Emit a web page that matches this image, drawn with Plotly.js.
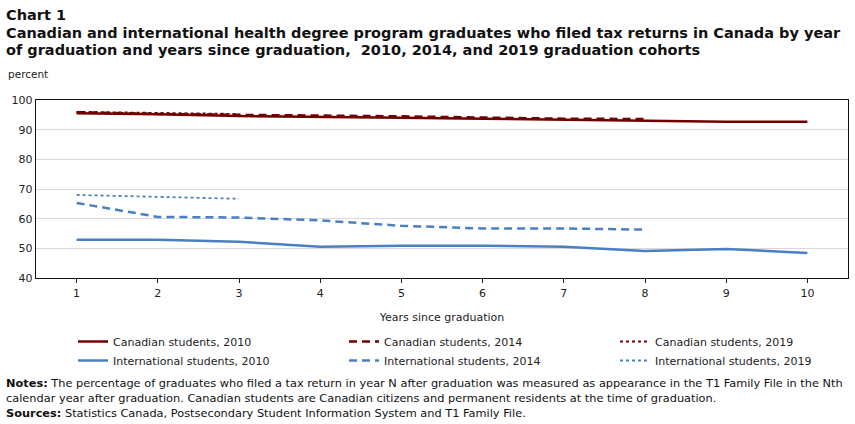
<!DOCTYPE html>
<html><head><meta charset="utf-8">
<script src="https://cdn.plot.ly/plotly-3.0.1.min.js"></script>
<style>html,body{margin:0;padding:0;background:#fff}#c{width:855px;height:424px}</style>
</head><body><div id="c"></div>
<script>
const years = [1,2,3,4,5,6,7,8,9,10];
const can2010 = [95.5,95.2,94.6,94.4,94.0,93.7,93.3,93.0,92.7,92.7];
const can2014 = [95.9,95.3,95.0,94.8,94.5,94.1,93.7,93.6];
const can2019 = [96.0,95.6,95.3];
const int2010 = [52.9,52.9,52.2,50.5,50.9,50.9,50.5,49.1,49.8,48.4];
const int2014 = [65.3,60.6,60.4,59.4,57.6,56.7,56.7,56.3];
const int2019 = [68.0,67.3,66.7];
const names = ["Canadian students, 2010","Canadian students, 2014","Canadian students, 2019",
               "International students, 2010","International students, 2014","International students, 2019"];
const titleLines = ["<b>Chart 1</b>",
  "<b>Canadian and international health degree program graduates who filed tax returns in Canada by year</b>",
  "<b>of graduation and years since graduation,  2010, 2014, and 2019 graduation cohorts</b>"];
const noteLines = ["<b>Notes:</b> The percentage of graduates who filed a tax return in year N after graduation was measured as appearance in the T1 Family File in the Nth",
  "calendar year after graduation. Canadian students are Canadian citizens and permanent residents at the time of graduation.",
  "<b>Sources:</b> Statistics Canada, Postsecondary Student Information System and T1 Family File."];
const RED = '#700000', BLUE = '#4a7fc1';
const FONT = 'DejaVu Sans, Verdana, sans-serif';
function tr(y, name, color, dash, w){
  return {x: years.slice(0, y.length), y: y, name: name, type: 'scatter', mode: 'lines',
          line: {color: color, dash: dash, width: w}, hoverinfo: 'skip'};
}
const data = [
  tr(can2010, names[0], RED, 'solid', 2.5),
  tr(can2014, names[1], RED, '8px,5px', 2.5),
  tr(can2019, names[2], RED, 'dot', 1.8),
  tr(int2010, names[3], BLUE, 'solid', 2.5),
  tr(int2014, names[4], BLUE, '8px,5px', 2.5),
  tr(int2019, names[5], BLUE, 'dot', 1.8)
];
// pixel -> paper helpers (plot area: x 36..848, y 100..278)
const PX = px => (px - 36) / 812;
const PY = py => (278 - py) / 178;
function ann(text, px, py, size, color){
  return {text: text, xref: 'paper', yref: 'paper', x: PX(px), y: PY(py), xanchor: 'left', yanchor: 'middle',
          showarrow: false, align: 'left', font: {family: FONT, size: size, color: color}};
}
const annotations = [
  ann(titleLines[0], 4, 15, 14.5, '#111'),
  ann(titleLines[1], 4, 33, 14.5, '#111'),
  ann(titleLines[2], 4, 50, 14.5, '#111'),
  ann('percent', 6, 74, 10.5, '#222'),
  ann(noteLines.join('<br>'), 4, 398, 11.35, '#111')
];
const layout = {
  width: 855, height: 424,
  margin: {l: 36, r: 7, t: 100, b: 146},
  paper_bgcolor: '#fff', plot_bgcolor: '#fff',
  font: {family: FONT, size: 11, color: '#222'},
  showlegend: true,
  legend: {orientation: 'h', xref: 'container', yref: 'container', x: 73/855, y: 1 - 327/424,
           xanchor: 'left', yanchor: 'top', entrywidth: 226, entrywidthmode: 'pixels',
           font: {family: FONT, size: 11, color: '#222'}, bgcolor: 'rgba(0,0,0,0)', traceorder: 'normal'},
  xaxis: {range: [0.5, 10.5], tickvals: years, ticks: 'outside', ticklen: 4, tickcolor: '#222',
          showgrid: false, zeroline: false, showline: true, linecolor: '#111', linewidth: 1.3, mirror: true,
          tickfont: {family: FONT, size: 11, color: '#222'},
          title: {text: 'Years since graduation', font: {family: FONT, size: 11, color: '#222'}, standoff: 14}},
  yaxis: {range: [40, 100], dtick: 10, showgrid: true, gridcolor: '#d9d9d9', gridwidth: 1,
          zeroline: false, showline: true, linecolor: '#111', linewidth: 1.3, mirror: true, ticks: '',
          tickfont: {family: FONT, size: 11, color: '#222'}},
  annotations: annotations
};
Plotly.newPlot('c', data, layout, {displayModeBar: false, staticPlot: true});
</script></body></html>
